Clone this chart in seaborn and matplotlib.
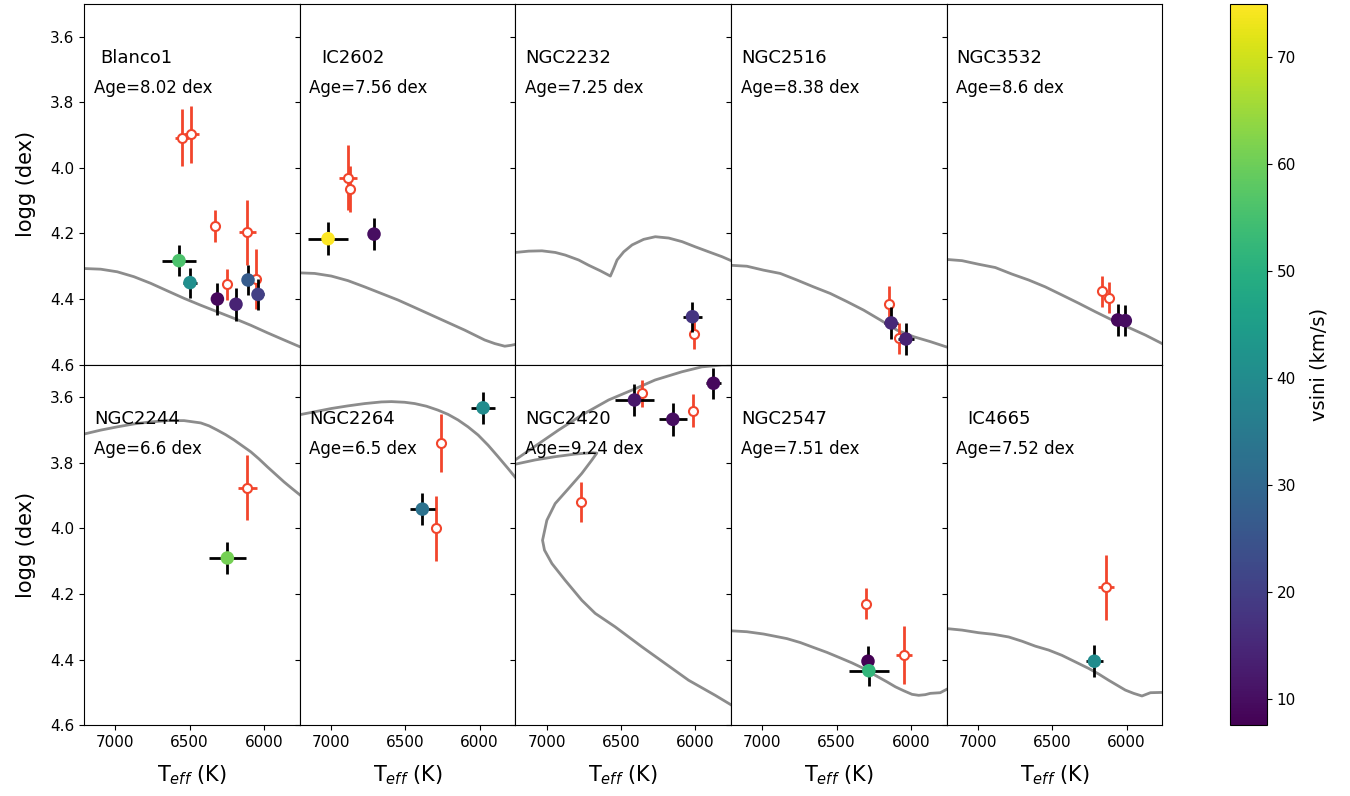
import numpy as np
import matplotlib
matplotlib.use("Agg")
import matplotlib.pyplot as plt
import seaborn as sns
from matplotlib.colors import Normalize
from matplotlib.cm import ScalarMappable

# ---------------- data ----------------
clusters = ["Blanco1", "IC2602", "NGC2232", "NGC2516", "NGC3532",
            "NGC2244", "NGC2264", "NGC2420", "NGC2547", "IC4665"]
ages = [8.02, 7.56, 7.25, 8.38, 8.6, 6.6, 6.5, 9.24, 7.51, 7.52]

# isochrones (Teff, logg)
iso_blanco1_T = [7300, 7210, 7098, 6986, 6874, 6762, 6650, 6537, 6425, 6313, 6201, 6089, 5977, 5865, 5757, 5650]
iso_blanco1_g = [4.306, 4.307, 4.309, 4.317, 4.332, 4.352, 4.375, 4.398, 4.419, 4.439, 4.459, 4.480, 4.503, 4.525, 4.546, 4.566]
iso_ic2602_T = [7300, 7221, 7109, 6997, 6885, 6773, 6661, 6549, 6436, 6324, 6212, 6100, 6033, 5966, 5898, 5831, 5786, 5755, 5650]
iso_ic2602_g = [4.318, 4.320, 4.322, 4.330, 4.344, 4.363, 4.383, 4.403, 4.426, 4.449, 4.472, 4.495, 4.510, 4.525, 4.536, 4.544, 4.541, 4.538, 4.538]
iso_ngc2232_T = [7300, 7210, 7120, 7031, 6941, 6874, 6784, 6717, 6638, 6571, 6549, 6526, 6481, 6425, 6347,
                 6269, 6179, 6089, 5999, 5910, 5820, 5744, 5650]
iso_ngc2232_g = [4.260, 4.258, 4.254, 4.253, 4.258, 4.266, 4.281, 4.297, 4.314, 4.330, 4.307, 4.281, 4.256, 4.235, 4.218,
                 4.210, 4.214, 4.225, 4.241, 4.256, 4.271, 4.286, 4.304]
iso_ngc2516_T = [7300, 7215, 7103, 6991, 6879, 6767, 6655, 6543, 6430, 6318, 6206, 6094, 5982, 5870, 5749, 5650]
iso_ngc2516_g = [4.295, 4.297, 4.300, 4.312, 4.322, 4.342, 4.363, 4.383, 4.408, 4.434, 4.464, 4.495, 4.515, 4.530, 4.548, 4.562]
iso_ngc3532_T = [7300, 7219, 7107, 6995, 6883, 6771, 6659, 6547, 6434, 6322, 6210, 6098, 5986, 5874, 5753, 5650]
iso_ngc3532_g = [4.277, 4.279, 4.283, 4.294, 4.304, 4.324, 4.342, 4.363, 4.388, 4.413, 4.439, 4.464, 4.487, 4.510, 4.538, 4.560]
iso_ngc2244_T = [7300, 7210, 7098, 6986, 6874, 6762, 6650, 6537, 6425, 6369, 6313, 6257, 6201, 6145, 6089,
                 6033, 5977, 5921, 5865, 5809, 5757, 5650]
iso_ngc2244_g = [3.722, 3.712, 3.700, 3.690, 3.681, 3.675, 3.671, 3.671, 3.678, 3.687, 3.700, 3.714, 3.730, 3.748, 3.766,
                 3.788, 3.812, 3.835, 3.858, 3.879, 3.898, 3.935]
iso_ngc2264_T = [7300, 7221, 7109, 6997, 6885, 6773, 6661, 6593, 6504, 6436, 6358, 6280, 6212, 6145, 6078,
                 6010, 5943, 5876, 5809, 5755, 5650]
iso_ngc2264_g = [3.662, 3.654, 3.644, 3.634, 3.626, 3.619, 3.614, 3.613, 3.615, 3.619, 3.627, 3.639, 3.652, 3.669, 3.690,
                 3.715, 3.746, 3.781, 3.817, 3.847, 3.905]
iso_ngc2420_T = [5650, 5745, 5866, 6045, 6202, 6359, 6539, 6673, 6763, 6875, 6964, 7014, 7027,
                 6998, 6942, 6852, 6763, 6695, 6662, 6695, 6808, 6942, 7077, 7211, 7320,
                 7320, 7211, 7077, 6920, 6763, 6583, 6426, 6270, 6090, 5956, 5821, 5745, 5650]
iso_ngc2420_g = [4.565, 4.542, 4.509, 4.463, 4.412, 4.361, 4.300, 4.259, 4.219, 4.158, 4.107, 4.066, 4.036,
                 3.975, 3.924, 3.878, 3.832, 3.791, 3.770, 3.769, 3.773, 3.781, 3.791, 3.804, 3.815,
                 3.800, 3.791, 3.749, 3.700, 3.654, 3.608, 3.578, 3.547, 3.522, 3.507, 3.5015, 3.5015, 3.498]
iso_ngc2547_T = [7300, 7215, 7103, 6991, 6912, 6834, 6744, 6655, 6565, 6475, 6397, 6318, 6240, 6161, 6105,
                 6049, 5993, 5948, 5904, 5870, 5803, 5749, 5650]
iso_ngc2547_g = [4.310, 4.312, 4.315, 4.322, 4.329, 4.336, 4.348, 4.363, 4.378, 4.395, 4.410, 4.427, 4.448, 4.468, 4.483,
                 4.495, 4.506, 4.509, 4.507, 4.503, 4.501, 4.488, 4.480]
iso_ic4665_T = [7300, 7219, 7107, 6995, 6894, 6793, 6703, 6614, 6524, 6435, 6345, 6255, 6188, 6121, 6065,
                6009, 5953, 5897, 5840, 5753, 5650]
iso_ic4665_g = [4.302, 4.305, 4.310, 4.318, 4.323, 4.331, 4.344, 4.359, 4.371, 4.387, 4.407, 4.427, 4.444, 4.463, 4.478,
                4.493, 4.503, 4.511, 4.501, 4.500, 4.498]

# filled stars (coloured by vsini) : Teff, logg, Teff err, logg err, vsini
blanco1_T = [6571, 6497, 6313, 6188, 6107, 6040]
blanco1_g = [4.283, 4.350, 4.400, 4.416, 4.342, 4.386]
blanco1_Te = [112, 50, 20, 20, 25, 40]
blanco1_ge = [0.048, 0.046, 0.048, 0.050, 0.046, 0.048]
blanco1_v = [56, 41, 9, 14, 27, 20]
ic2602_T = [7019, 6710]
ic2602_g = [4.216, 4.202]
ic2602_Te = [132, 15]
ic2602_ge = [0.050, 0.048]
ic2602_v = [75, 10]
ngc2232_T = [6019]
ngc2232_g = [4.454]
ngc2232_Te = [64]
ngc2232_ge = [0.046]
ngc2232_v = [18]
ngc2516_T = [6133, 6034]
ngc2516_g = [4.473, 4.522]
ngc2516_Te = [45, 55]
ngc2516_ge = [0.049, 0.048]
ngc2516_v = [15, 14]
ngc3532_T = [6060, 6009]
ngc3532_g = [4.464, 4.466]
ngc3532_Te = [15, 15]
ngc3532_ge = [0.048, 0.048]
ngc3532_v = [9, 10]
ngc2244_T = [6246]
ngc2244_g = [4.090]
ngc2244_Te = [126]
ngc2244_ge = [0.050]
ngc2244_v = [61]
ngc2264_T = [6385, 5977]
ngc2264_g = [3.941, 3.632]
ngc2264_Te = [86, 78]
ngc2264_ge = [0.048, 0.048]
ngc2264_v = [33, 40]
ngc2420_T = [6409, 6151, 5878]
ngc2420_g = [3.608, 3.667, 3.557]
ngc2420_Te = [128, 95, 50]
ngc2420_ge = [0.049, 0.050, 0.048]
ngc2420_v = [12, 10, 9]
ngc2547_T = [6289, 6283]
ngc2547_g = [4.405, 4.434]
ngc2547_Te = [15, 135]
ngc2547_ge = [0.046, 0.048]
ngc2547_v = [7.6, 52]
ic4665_T = [6217]
ic4665_g = [4.405]
ic4665_Te = [58]
ic4665_ge = [0.048]
ic4665_v = [40]

# open (red) stars : Teff, logg, Teff err, logg err
blanco1_oT = [6553, 6488, 6331, 6246, 6112, 6055]
blanco1_og = [3.908, 3.898, 4.177, 4.355, 4.197, 4.340]
blanco1_oTe = [47, 50, 15, 15, 56, 15]
blanco1_oge = [0.0875, 0.0875, 0.049, 0.048, 0.099, 0.092]
ic2602_oT = [6885, 6873]
ic2602_og = [4.030, 4.065]
ic2602_oTe = [62, 15]
ic2602_oge = [0.100, 0.070]
ngc2232_oT = [6012]
ngc2232_og = [4.508]
ngc2232_oTe = [15]
ngc2232_oge = [0.045]
ngc2516_oT = [6146, 6083]
ngc2516_og = [4.416, 4.520]
ngc2516_oTe = [15, 15]
ngc2516_oge = [0.057, 0.048]
ngc3532_oT = [6166, 6121]
ngc3532_og = [4.376, 4.396]
ngc3532_oTe = [15, 15]
ngc3532_oge = [0.047, 0.048]
ngc2244_oT = [6112]
ngc2244_og = [3.876]
ngc2244_oTe = [63]
ngc2244_oge = [0.099]
ngc2264_oT = [6261, 6291]
ngc2264_og = [3.739, 4.000]
ngc2264_oTe = [15, 15]
ngc2264_oge = [0.089, 0.099]
ngc2420_oT = [6359, 6016, 6767]
ngc2420_og = [3.588, 3.641, 3.919]
ngc2420_oTe = [15, 15, 15]
ngc2420_oge = [0.040, 0.050, 0.060]
ngc2547_oT = [6301, 6050]
ngc2547_og = [4.229, 4.386]
ngc2547_oTe = [15, 54]
ngc2547_oge = [0.046, 0.0875]
ic4665_oT = [6139]
ic4665_og = [4.180]
ic4665_oTe = [56]
ic4665_oge = [0.099]

xticks = [7000, 6500, 6000]
yticks = [3.6, 3.8, 4.0, 4.2, 4.4, 4.6]
cbar_ticks = [10, 20, 30, 40, 50, 60, 70]

# ---------------- assemble ----------------
isos = [(iso_blanco1_T, iso_blanco1_g), (iso_ic2602_T, iso_ic2602_g), (iso_ngc2232_T, iso_ngc2232_g),
        (iso_ngc2516_T, iso_ngc2516_g), (iso_ngc3532_T, iso_ngc3532_g), (iso_ngc2244_T, iso_ngc2244_g),
        (iso_ngc2264_T, iso_ngc2264_g), (iso_ngc2420_T, iso_ngc2420_g), (iso_ngc2547_T, iso_ngc2547_g),
        (iso_ic4665_T, iso_ic4665_g)]
filled = [(blanco1_T, blanco1_g, blanco1_Te, blanco1_ge, blanco1_v),
          (ic2602_T, ic2602_g, ic2602_Te, ic2602_ge, ic2602_v),
          (ngc2232_T, ngc2232_g, ngc2232_Te, ngc2232_ge, ngc2232_v),
          (ngc2516_T, ngc2516_g, ngc2516_Te, ngc2516_ge, ngc2516_v),
          (ngc3532_T, ngc3532_g, ngc3532_Te, ngc3532_ge, ngc3532_v),
          (ngc2244_T, ngc2244_g, ngc2244_Te, ngc2244_ge, ngc2244_v),
          (ngc2264_T, ngc2264_g, ngc2264_Te, ngc2264_ge, ngc2264_v),
          (ngc2420_T, ngc2420_g, ngc2420_Te, ngc2420_ge, ngc2420_v),
          (ngc2547_T, ngc2547_g, ngc2547_Te, ngc2547_ge, ngc2547_v),
          (ic4665_T, ic4665_g, ic4665_Te, ic4665_ge, ic4665_v)]
opens = [(blanco1_oT, blanco1_og, blanco1_oTe, blanco1_oge),
         (ic2602_oT, ic2602_og, ic2602_oTe, ic2602_oge),
         (ngc2232_oT, ngc2232_og, ngc2232_oTe, ngc2232_oge),
         (ngc2516_oT, ngc2516_og, ngc2516_oTe, ngc2516_oge),
         (ngc3532_oT, ngc3532_og, ngc3532_oTe, ngc3532_oge),
         (ngc2244_oT, ngc2244_og, ngc2244_oTe, ngc2244_oge),
         (ngc2264_oT, ngc2264_og, ngc2264_oTe, ngc2264_oge),
         (ngc2420_oT, ngc2420_og, ngc2420_oTe, ngc2420_oge),
         (ngc2547_oT, ngc2547_og, ngc2547_oTe, ngc2547_oge),
         (ic4665_oT, ic4665_og, ic4665_oTe, ic4665_oge)]

RED = "#f2452c"
VMIN, VMAX = 7.6, 75.0
norm = Normalize(VMIN, VMAX)

fig, axes = plt.subplots(2, 5, figsize=(13.5, 7.96), dpi=100, sharex=True, sharey=True)
fig.subplots_adjust(left=0.0622, right=0.861, top=0.995, bottom=0.089, wspace=0, hspace=0)

for i, ax in enumerate(axes.flat):
    iT, ig = isos[i]
    sns.lineplot(x=iT, y=ig, sort=False, estimator=None, color="#8c8c8c", lw=2, ax=ax, zorder=1,
                 solid_joinstyle="round")
    oT, og, oTe, oge = opens[i]
    ax.errorbar(oT, og, xerr=oTe, yerr=oge, fmt="o", ms=6.5, mfc="white", mec=RED, mew=1.5,
                ecolor=RED, elinewidth=2, capsize=0, zorder=2)
    fT, fg, fTe, fge, fv = filled[i]
    ax.errorbar(fT, fg, xerr=fTe, yerr=fge, fmt="none", ecolor="black", elinewidth=2, capsize=0, zorder=3)
    sns.scatterplot(x=fT, y=fg, hue=fv, palette="viridis", hue_norm=(VMIN, VMAX), s=95,
                    edgecolor="none", legend=False, ax=ax, zorder=4)
    ax.text(6855, 3.665, clusters[i], ha="center", va="center", fontsize=13)
    ax.text(7145, 3.757, "Age=%s dex" % ages[i], ha="left", va="center", fontsize=12)
    ax.set_xlim(7210, 5760)
    ax.set_ylim(4.6, 3.5)
    ax.set_xticks(xticks)
    ax.set_yticks(yticks)
    ax.tick_params(labelsize=11)
    ax.set_xlabel("")
    ax.set_ylabel("")
    if i >= 5:
        ax.set_xlabel(r"T$_{eff}$ (K)", fontsize=15, labelpad=10)
    if i % 5 == 0:
        ax.set_ylabel("logg (dex)", fontsize=15, labelpad=10)

cax = fig.add_axes([1230 / 1350, 0.089, 37 / 1350, 0.906])
sm = ScalarMappable(norm=norm, cmap="viridis")
cb = fig.colorbar(sm, cax=cax, ticks=cbar_ticks)
cb.set_label("vsini (km/s)", fontsize=14, labelpad=10)
cb.ax.tick_params(labelsize=11)

fig.savefig("out.png", dpi=100)
